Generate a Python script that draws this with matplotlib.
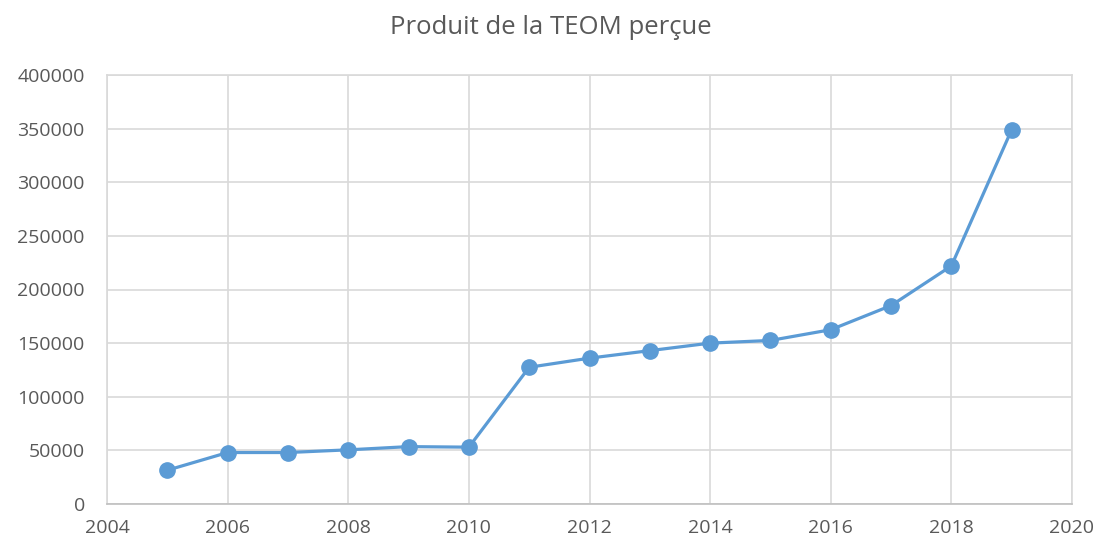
import matplotlib
matplotlib.use("Agg")
import matplotlib.pyplot as plt

years = [2005, 2006, 2007, 2008, 2009, 2010, 2011, 2012, 2013, 2014, 2015, 2016, 2017, 2018, 2019]
teom = [31500, 48000, 48000, 50500, 53500, 53000, 127500, 136000, 143000, 150000, 152500, 162500, 185000, 222000, 349000]
x_ticks = [2004, 2006, 2008, 2010, 2012, 2014, 2016, 2018, 2020]
y_ticks = [0, 50000, 100000, 150000, 200000, 250000, 300000, 350000, 400000]
title = "Produit de la TEOM perçue"

plt.rcParams['font.family'] = ['Open Sans', 'DejaVu Sans']
fig = plt.figure(figsize=(11.01, 5.45), dpi=100)
ax = fig.add_axes([107/1101, 1 - 504/545, (1072-107)/1101, (504-75)/545])

color = '#5B9BD5'
ax.plot(years, teom, color=color, linewidth=2.3, marker='o', markersize=11, zorder=3)

ax.set_xlim(2004, 2020)
ax.set_ylim(0, 400000)
ax.set_xticks(x_ticks)
ax.set_yticks(y_ticks)
ax.set_xticklabels([str(v) for v in x_ticks])
ax.set_yticklabels([str(v) for v in y_ticks])
ax.grid(True, color='#D9D9D9', linewidth=1.2)
ax.set_axisbelow(True)
for s in ax.spines.values():
    s.set_color('#D9D9D9')
    s.set_linewidth(1.2)
ax.spines['bottom'].set_color('#BFBFBF')
ax.tick_params(length=0, labelsize=14, colors='#595959')
ax.tick_params(axis='y', pad=16)
ax.tick_params(axis='x', pad=11)
fig.text(0.5, 1 - 27/545, title, ha='center', va='center', fontsize=18.5, color='#595959')

fig.savefig('out.png', dpi=100)
